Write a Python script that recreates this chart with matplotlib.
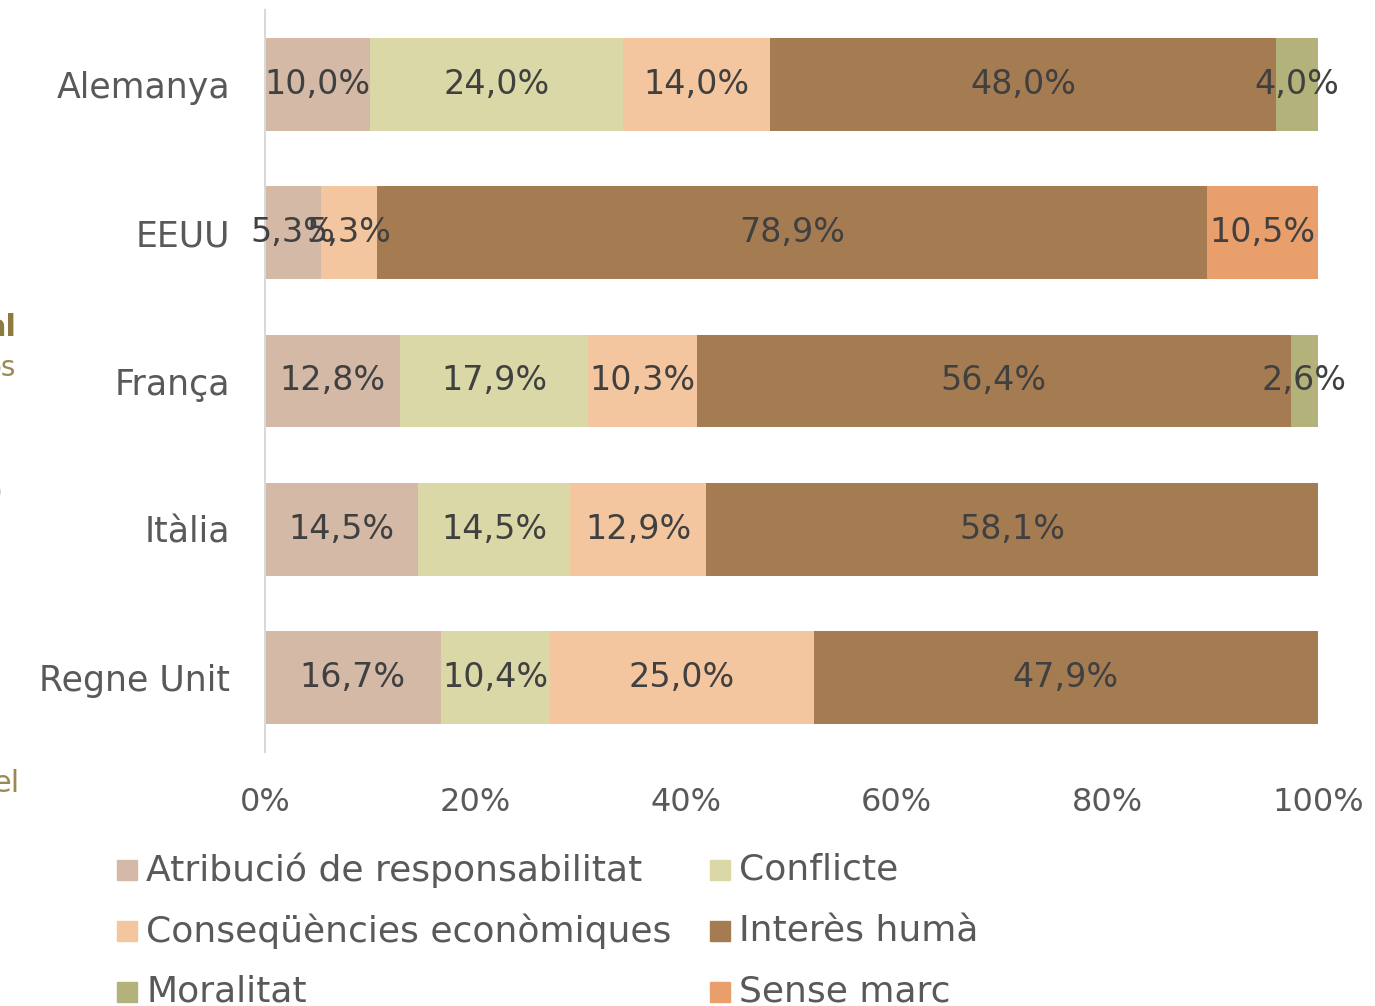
import matplotlib
matplotlib.use("Agg")
import matplotlib.pyplot as plt
from matplotlib.patches import Rectangle
import numpy as np

plt.rcParams['font.family'] = ['DejaVu Sans']

countries = ["Alemanya", "EEUU", "França", "Itàlia", "Regne Unit"]
series = ["Atribució de responsabilitat", "Conflicte", "Conseqüències econòmiques",
          "Interès humà", "Moralitat", "Sense marc"]
colors = ["#D3B9A6", "#D9D8A6", "#F4C6A0", "#A57C52", "#B3B27B", "#E89F6C"]

atribucio = [10.0, 5.3, 12.8, 14.5, 16.7]
conflicte = [24.0, 0.0, 17.9, 14.5, 10.4]
consequencies = [14.0, 5.3, 10.3, 12.9, 25.0]
interes = [48.0, 78.9, 56.4, 58.1, 47.9]
moralitat = [4.0, 0.0, 2.6, 0.0, 0.0]
sense_marc = [0.0, 10.5, 0.0, 0.0, 0.0]
values = [atribucio, conflicte, consequencies, interes, moralitat, sense_marc]

xticks = [0, 20, 40, 60, 80, 100]
xticklabels = ["0%", "20%", "40%", "60%", "80%", "100%"]

fig = plt.figure(figsize=(13.75, 10.06), dpi=100)
ax = fig.add_axes([265/1375, 1-752/1006, (1318-265)/1375, (752-10)/1006])

y = np.arange(len(countries))
left = np.zeros(len(countries))
for name, vals, col in zip(series, values, colors):
    vals = np.array(vals)
    ax.barh(y, vals, left=left, height=0.625, color=col, label=name)
    for yi, l, v in zip(y, left, vals):
        if v > 0:
            ax.text(l + v/2, yi, f"{v:.1f}%".replace(".", ","), ha="center", va="center",
                    fontsize=24, color="#404040")
    left += vals

ax.set_ylim(4.5, -0.5)
ax.set_xlim(0, 100)
ax.set_yticks(y)
ax.set_yticklabels(countries, fontsize=25, color="#595959")
ax.set_xticks(xticks)
ax.set_xticklabels(xticklabels, fontsize=23, color="#595959")
ax.tick_params(axis="both", length=0)
ax.tick_params(axis="y", pad=25)
ax.tick_params(axis="x", pad=25)
for s in ["top", "right", "bottom"]:
    ax.spines[s].set_visible(False)
ax.spines["left"].set_color("#D9D9D9")
ax.spines["left"].set_linewidth(1.5)

# legend (manual, row-major)
col_x = [117, 710]
row_y = [870, 931, 992]
for i, (name, col) in enumerate(zip(series, colors)):
    r, c = divmod(i, 2)
    px = col_x[c]
    py = row_y[r]
    fig.patches.append(Rectangle((px/1375, 1-(py+10)/1006), 20/1375, 20/1006,
                                 transform=fig.transFigure, color=col))
    fig.text((px+29)/1375, 1-py/1006, name, fontsize=26, color="#595959",
             ha="left", va="center")

# cropped fragments at the left edge
fig.text(-14/1375, 1-327/1006, "al", fontsize=22, color="#8C7A3E", fontweight="bold",
         ha="left", va="center")
fig.text(-16/1375, 1-368/1006, "os", fontsize=20, color="#9A8A52", ha="left", va="center")
fig.text(-8/1375, 1-493/1006, ")", fontsize=20, color="#9A8A52", ha="left", va="center")
fig.text(-8/1375, 1-783/1006, "el", fontsize=22, color="#9A8A52", ha="left", va="center")

fig.savefig("out.png", dpi=100)
